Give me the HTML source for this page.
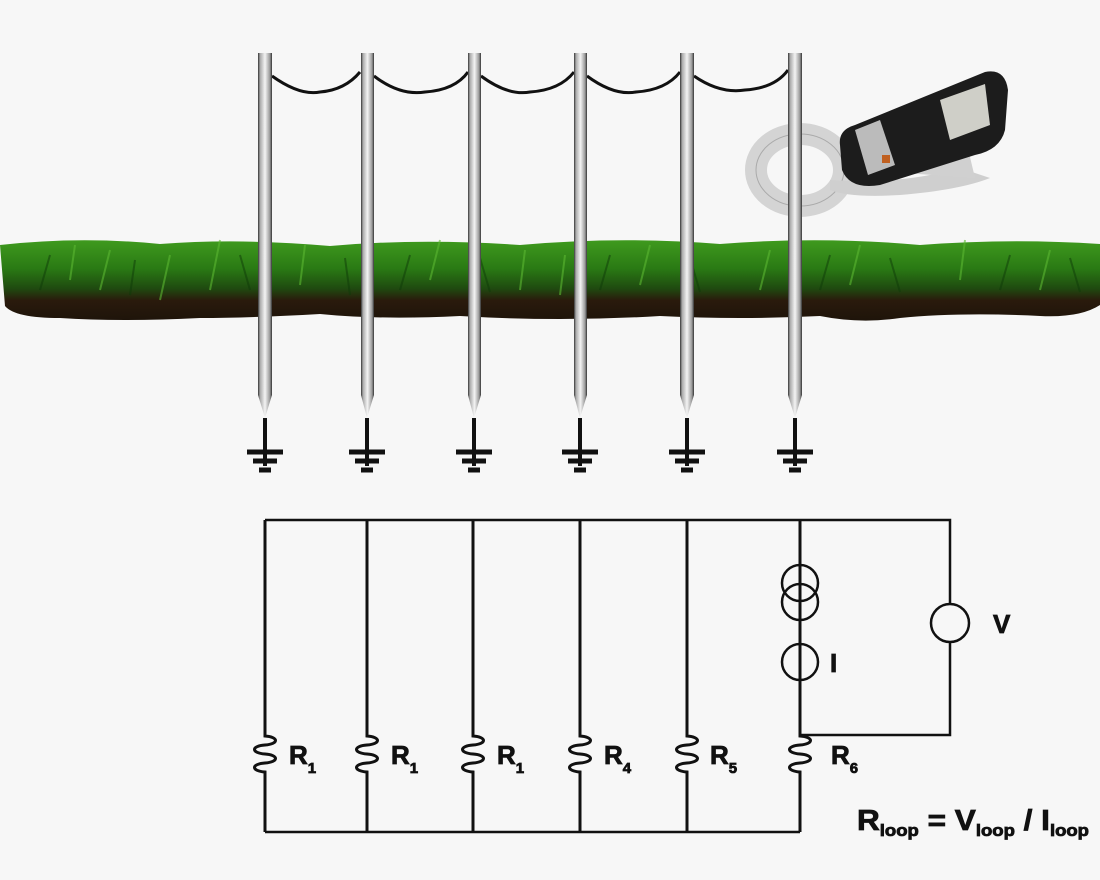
<!DOCTYPE html>
<html><head><meta charset="utf-8"><style>
html,body{margin:0;padding:0;background:#f7f7f7;}
svg{display:block}
text{font-family:"Liberation Sans",sans-serif;font-weight:bold;fill:#111;stroke:#111;stroke-width:0.8}
</style></head><body>
<svg width="1100" height="880" viewBox="0 0 1100 880" xmlns="http://www.w3.org/2000/svg">
<defs>
<linearGradient id="grass" x1="0" y1="0" x2="0" y2="1">
<stop offset="0" stop-color="#3f9a1e"/>
<stop offset="0.35" stop-color="#2a7a14"/>
<stop offset="0.6" stop-color="#1f4a10"/>
<stop offset="0.75" stop-color="#2a1a0c"/>
<stop offset="1" stop-color="#1e140a"/>
</linearGradient>
<linearGradient id="pole" x1="0" y1="0" x2="1" y2="0">
<stop offset="0" stop-color="#333"/>
<stop offset="0.15" stop-color="#aaa"/>
<stop offset="0.5" stop-color="#f4f4f4"/>
<stop offset="0.85" stop-color="#999"/>
<stop offset="1" stop-color="#333"/>
</linearGradient>
</defs>
<rect width="1100" height="880" fill="#f7f7f7"/>
<path d="M0 245 Q80 236 160 244 Q240 238 330 246 Q420 238 520 245 Q620 236 720 244 Q820 236 920 245 Q1010 238 1100 244 L1100 305 Q1080 318 1040 316 Q960 312 900 318 Q860 324 820 316 Q740 320 660 316 Q560 322 460 316 Q380 320 320 314 Q250 318 200 318 Q120 322 60 318 Q15 318 5 306 Z" fill="url(#grass)"/>
<g stroke="#5cb832" stroke-width="2" opacity="0.6" fill="none">
<path d="M70 280 L75 245 M100 290 L110 250 M300 285 L305 245 M160 300 L170 255 M430 280 L440 240 M520 290 L525 250 M640 285 L650 245 M760 290 L770 250 M850 285 L860 245 M960 280 L965 240 M1040 290 L1050 250 M560 295 L565 255 M210 290 L220 240"/>
</g>
<g stroke="#0e3a08" stroke-width="2" opacity="0.5" fill="none">
<path d="M40 290 L50 255 M130 295 L135 260 M250 290 L240 255 M350 295 L345 258 M400 290 L410 255 M490 292 L480 258 M600 290 L610 255 M700 292 L690 258 M820 290 L830 255 M900 292 L890 258 M1000 290 L1010 255 M1080 292 L1070 258"/>
</g>
<g fill="none" stroke="#111" stroke-width="3">
<path d="M272 76 Q300 96 320 92 Q345 90 360 72"/>
<path d="M374 76 Q400 96 425 92 Q455 90 468 72"/>
<path d="M481 76 Q508 96 530 92 Q560 90 574 72"/>
<path d="M587 76 Q614 96 636 92 Q666 90 680 72"/>
<path d="M694 76 Q720 94 745 90 Q775 88 788 70"/>
</g>
<g>
<path d="M258 53 L272 53 L272 395 L265 418 L258 395 Z" fill="url(#pole)"/>
<path d="M361 53 L374 53 L374 395 L367 418 L361 395 Z" fill="url(#pole)"/>
<path d="M468 53 L481 53 L481 395 L474 418 L468 395 Z" fill="url(#pole)"/>
<path d="M574 53 L587 53 L587 395 L580 418 L574 395 Z" fill="url(#pole)"/>
<path d="M680 53 L694 53 L694 395 L687 418 L680 395 Z" fill="url(#pole)"/>
</g>
<g>
<ellipse cx="800" cy="170" rx="44" ry="36" fill="none" stroke="#d4d4d4" stroke-width="22"/>
<ellipse cx="800" cy="170" rx="44" ry="36" fill="none" stroke="#aaa" stroke-width="1"/>
</g>
<path d="M788 53 L802 53 L802 395 L795 418 L788 395 Z" fill="url(#pole)"/>
<g>
<path d="M830 180 Q900 185 960 168 L990 178 Q960 190 900 195 Q850 198 830 190 Z" fill="#cfcfcf"/>
<path d="M845 130 L855 148 L960 115 L975 178 L890 172 Z" fill="#d0d0d0"/>
<path d="M840 145 Q838 130 855 125 L985 72 Q1005 68 1008 90 L1005 130 Q1000 150 975 155 L880 185 Q850 190 842 170 Z" fill="#1c1c1c"/>
<path d="M940 100 L985 84 L990 125 L950 140 Z" fill="#cfcfc8"/>
<path d="M855 130 L880 120 L895 165 L868 175 Z" fill="#bbb"/>
<rect x="882" y="155" width="8" height="8" fill="#c06020"/>
</g>
<g stroke="#111" fill="none">
<g id="gnd">
<line x1="265" y1="418" x2="265" y2="466" stroke-width="4"/>
<line x1="247" y1="452" x2="283" y2="452" stroke-width="5"/>
<line x1="253" y1="461" x2="277" y2="461" stroke-width="5"/>
<line x1="259" y1="470" x2="271" y2="470" stroke-width="5"/>
</g>
<use href="#gnd" x="102"/>
<use href="#gnd" x="209"/>
<use href="#gnd" x="315"/>
<use href="#gnd" x="422"/>
<use href="#gnd" x="530"/>
</g>
<g fill="none" stroke="#111" stroke-width="2.5">
<path d="M265 520 L950 520 L950 604"/>
<path d="M950 642 L950 735 L800 735"/>
<path d="M800 520 L800 564"/>
<path d="M800 621 L800 644"/>
<path d="M800 680 L800 737"/>
<circle cx="800" cy="583" r="18"/>
<circle cx="800" cy="602" r="18"/>
<circle cx="800" cy="662" r="18"/>
<circle cx="950" cy="623" r="19"/>
<path d="M265 832 L800 832"/>
<g id="res" stroke-width="3">
<path d="M265 520 L265 736 C279 737 279 744 265 745 C251 746 251 753 265 754 C279 755 279 762 265 763 C251 764 251 771 265 772 L265 832"/>
</g>
<use href="#res" x="102"/>
<use href="#res" x="208"/>
<use href="#res" x="315"/>
<use href="#res" x="422"/>
<use href="#res" x="535"/>
</g>
<g font-size="26">
<text x="289" y="764">R<tspan font-size="15" dy="9">1</tspan></text>
<text x="391" y="764">R<tspan font-size="15" dy="9">1</tspan></text>
<text x="497" y="764">R<tspan font-size="15" dy="9">1</tspan></text>
<text x="604" y="764">R<tspan font-size="15" dy="9">4</tspan></text>
<text x="710" y="764">R<tspan font-size="15" dy="9">5</tspan></text>
<text x="831" y="764">R<tspan font-size="15" dy="9">6</tspan></text>
<text x="830" y="672">I</text>
<text x="993" y="633">V</text>
<text x="857" y="830" font-size="29" textLength="232" lengthAdjust="spacingAndGlyphs">R<tspan font-size="17" dy="6">loop</tspan><tspan dy="-6"> = V</tspan><tspan font-size="17" dy="6">loop</tspan><tspan dy="-6"> / I</tspan><tspan font-size="17" dy="6">loop</tspan></text>
</g>
</svg>
</body></html>
